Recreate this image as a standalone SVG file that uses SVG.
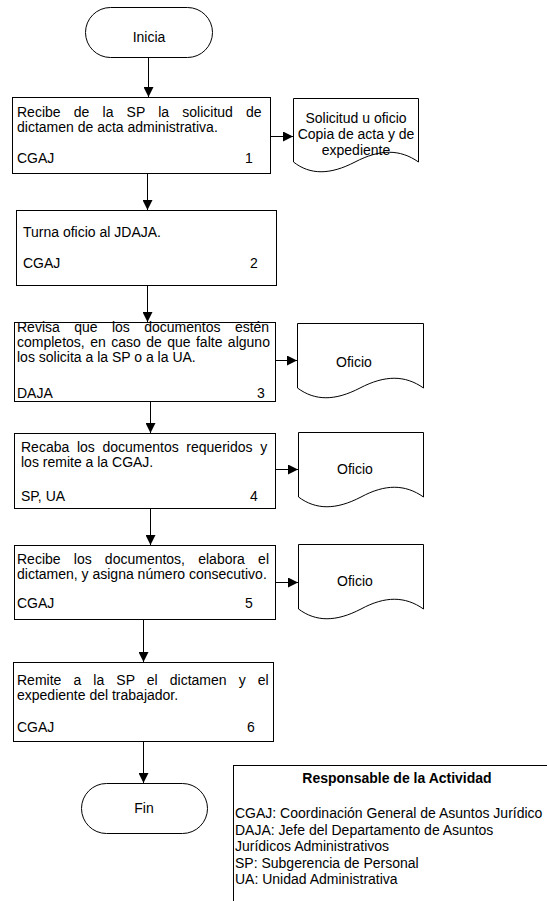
<svg xmlns="http://www.w3.org/2000/svg" width="547" height="901" viewBox="0 0 547 901">
<style>
.shape{fill:#fff;stroke:#000;stroke-width:1}
.t{font-family:"Liberation Sans",Arial,sans-serif;font-size:14px;fill:#000}
.c{text-anchor:middle}
.b{font-weight:bold}
.conn{stroke:#000;stroke-width:1;fill:none}
</style>
<defs>
<marker id="arr" viewBox="0 0 10 10" refX="10" refY="5" markerWidth="10" markerHeight="10" markerUnits="userSpaceOnUse" orient="auto">
<path d="M0,0 L10,5 L0,10 Z" fill="#000"/>
</marker>
</defs>
<rect width="547" height="901" fill="#fff"/>

<g id="connectors">
<line class="conn" x1="148.5" y1="57" x2="148.5" y2="97" marker-end="url(#arr)"/>
<line class="conn" x1="147.5" y1="173" x2="147.5" y2="210" marker-end="url(#arr)"/>
<line class="conn" x1="147.5" y1="285" x2="147.5" y2="322" marker-end="url(#arr)"/>
<line class="conn" x1="150.5" y1="401" x2="150.5" y2="433" marker-end="url(#arr)"/>
<line class="conn" x1="150.5" y1="508" x2="150.5" y2="545" marker-end="url(#arr)"/>
<line class="conn" x1="143.5" y1="619" x2="143.5" y2="662" marker-end="url(#arr)"/>
<line class="conn" x1="143.5" y1="741" x2="143.5" y2="783" marker-end="url(#arr)"/>
<line class="conn" x1="270" y1="136.5" x2="293" y2="136.5" marker-end="url(#arr)"/>
<line class="conn" x1="275" y1="360.5" x2="297" y2="360.5" marker-end="url(#arr)"/>
<line class="conn" x1="275" y1="469.5" x2="298" y2="469.5" marker-end="url(#arr)"/>
<line class="conn" x1="275" y1="582.5" x2="298" y2="582.5" marker-end="url(#arr)"/>
</g>

<g id="inicia">
<rect class="shape" x="85.5" y="7.5" width="127" height="50" rx="25" ry="25"/>
<text class="t c" x="149" y="42">Inicia</text>
</g>

<g id="step1">
<rect class="shape" x="12.5" y="97.5" width="258" height="76"/>
<text class="t" x="17" y="117" word-spacing="9.3">Recibe de la SP la solicitud de</text>
<text class="t" x="17" y="132">dictamen de acta administrativa.</text>
<text class="t" x="17" y="163">CGAJ</text>
<text class="t" x="245" y="163">1</text>
</g>

<g id="doc1">
<path class="shape" d="M293.5,98.5 H418.5 V162 C400,149 380,149 355,162 C330,175 310,175 293.5,162 Z"/>
<text class="t c" x="356" y="123">Solicitud u oficio</text>
<text class="t c" x="356" y="139">Copia de acta y de</text>
<text class="t c" x="356" y="155">expediente</text>
</g>

<g id="step2">
<rect class="shape" x="16.5" y="210.5" width="260" height="75"/>
<text class="t" x="23" y="236.5">Turna oficio al JDAJA.</text>
<text class="t" x="23" y="268">CGAJ</text>
<text class="t" x="250" y="268">2</text>
</g>

<g id="step3">
<rect class="shape" x="14.5" y="322.5" width="261" height="79"/>
<text class="t" x="17" y="331.5" word-spacing="10.5">Revisa que los documentos estén</text>
<text class="t" x="17" y="346.5" word-spacing="1.55">completos, en caso de que falte alguno</text>
<text class="t" x="17" y="361.5">los solicita a la SP o a la UA.</text>
<text class="t" x="17" y="398">DAJA</text>
<text class="t" x="257" y="398">3</text>
</g>

<g id="doc2">
<path class="shape" d="M297.5,323.5 H423.5 V388 C405,375 385,375 360,388 C335,401 315,401 297.5,388 Z"/>
<text class="t c" x="354" y="367">Oficio</text>
</g>

<g id="step4">
<rect class="shape" x="14.5" y="433.5" width="261" height="75"/>
<text class="t" x="21" y="451.5" word-spacing="3.75">Recaba los documentos requeridos y</text>
<text class="t" x="21" y="466.5">los remite a la CGAJ.</text>
<text class="t" x="21" y="501">SP, UA</text>
<text class="t" x="250" y="501">4</text>
</g>

<g id="doc3">
<path class="shape" d="M298.5,432.5 H423.5 V497 C405,484 385,484 361,497 C336,510 316,510 298.5,497 Z"/>
<text class="t c" x="355" y="474">Oficio</text>
</g>

<g id="step5">
<rect class="shape" x="14.5" y="545.5" width="261" height="74"/>
<text class="t" x="17" y="564" word-spacing="9.3">Recibe los documentos, elabora el</text>
<text class="t" x="17" y="579">dictamen, y asigna número consecutivo.</text>
<text class="t" x="17" y="608">CGAJ</text>
<text class="t" x="245" y="608">5</text>
</g>

<g id="doc4">
<path class="shape" d="M298.5,544.5 H423.5 V609 C405,596 385,596 361,609 C336,622 316,622 298.5,609 Z"/>
<text class="t c" x="355" y="585.5">Oficio</text>
</g>

<g id="step6">
<rect class="shape" x="13.5" y="662.5" width="260" height="79"/>
<text class="t" x="17" y="685" word-spacing="8.2">Remite a la SP el dictamen y el</text>
<text class="t" x="17" y="700">expediente del trabajador.</text>
<text class="t" x="17" y="731.5">CGAJ</text>
<text class="t" x="247" y="731.5">6</text>
</g>

<g id="fin">
<rect class="shape" x="81.5" y="783.5" width="126" height="50" rx="25" ry="25"/>
<text class="t c" x="144" y="813">Fin</text>
</g>

<g id="legend">
<rect class="shape" x="233.5" y="765.5" width="340" height="150"/>
<text class="t c b" x="397" y="783">Responsable de la Actividad</text>
<text class="t" x="235" y="818">CGAJ: Coordinación General de Asuntos Jurídico</text>
<text class="t" x="235" y="835">DAJA: Jefe del Departamento de Asuntos</text>
<text class="t" x="235" y="851">Jurídicos Administrativos</text>
<text class="t" x="235" y="868">SP: Subgerencia de Personal</text>
<text class="t" x="235" y="884">UA: Unidad Administrativa</text>
</g>
</svg>
